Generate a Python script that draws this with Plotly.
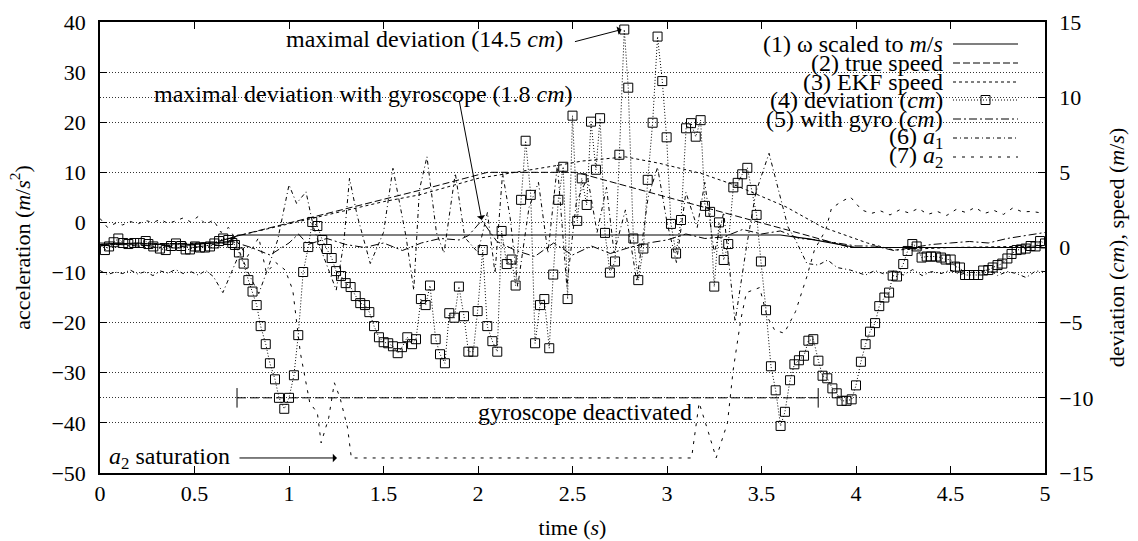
import plotly.graph_objects as go

# ---------------- data ----------------
# (4) deviation without gyroscope, cm (right axis)
dev_t = [0.026, 0.048, 0.072, 0.097, 0.123, 0.150, 0.181, 0.212, 0.242, 0.256, 0.282, 0.317, 0.348,
         0.376, 0.402, 0.429, 0.453, 0.476, 0.503, 0.529, 0.556, 0.582, 0.605, 0.630, 0.652, 0.679,
         0.700, 0.714, 0.735, 0.760, 0.785, 0.807, 0.829, 0.850, 0.877, 0.899, 0.926, 0.947, 0.975,
         1.000, 1.026, 1.049, 1.075, 1.102, 1.123, 1.150, 1.176, 1.200, 1.226, 1.249, 1.275, 1.300,
         1.326, 1.353, 1.377, 1.402, 1.425, 1.450, 1.476, 1.501, 1.525, 1.550, 1.575, 1.598, 1.626,
         1.651, 1.672, 1.698, 1.723, 1.746, 1.776, 1.799, 1.825, 1.848, 1.875, 1.899, 1.926, 1.949,
         1.975, 1.998, 2.025, 2.049, 2.076, 2.102, 2.125, 2.152, 2.178, 2.199, 2.228, 2.252, 2.279,
         2.302, 2.328, 2.351, 2.377, 2.398, 2.425, 2.451, 2.474, 2.500, 2.525, 2.549, 2.575, 2.598,
         2.624, 2.646, 2.672, 2.698, 2.725, 2.748, 2.774, 2.795, 2.822, 2.848, 2.875, 2.898, 2.924,
         2.950, 2.975, 2.998, 3.021, 3.048, 3.074, 3.101, 3.127, 3.152, 3.178, 3.201, 3.228, 3.250,
         3.275, 3.300, 3.324, 3.351, 3.374, 3.398, 3.425, 3.448, 3.474, 3.497, 3.524, 3.550, 3.575,
         3.601, 3.624, 3.651, 3.674, 3.698, 3.725, 3.748, 3.774, 3.801, 3.823, 3.848, 3.875, 3.898,
         3.924, 3.950, 3.977, 4.000, 4.026, 4.051, 4.074, 4.101, 4.123, 4.150, 4.175, 4.194, 4.217,
         4.250, 4.273, 4.298, 4.321, 4.347, 4.374, 4.397, 4.422, 4.450, 4.474, 4.501, 4.524, 4.550,
         4.577, 4.598, 4.624, 4.647, 4.673, 4.700, 4.723, 4.749, 4.774, 4.801, 4.823, 4.850, 4.873,
         4.898, 4.924, 4.950, 4.974, 5.000]
dev_cm = [-0.17, 0.07, 0.35, 0.60, 0.30, 0.23, 0.30, 0.30, 0.43, 0.23, 0.07, -0.07, -0.17,
          0.10, 0.27, 0.10, -0.13, -0.13, 0.07, 0.00, 0.00, 0.07, 0.27, 0.43, 0.60, 0.50,
          0.30, 0.17, -0.33, -1.07, -2.17, -2.93, -3.83, -5.23, -6.43, -7.70, -8.77, -10.00, -10.73,
          -10.00, -8.50, -5.83, -1.63, 0.03, 1.70, 1.43, 0.50, -0.10, -0.70, -1.57, -1.90, -2.37,
          -2.63, -3.23, -3.70, -3.83, -4.30, -5.23, -5.97, -6.30, -6.37, -6.57, -7.03, -6.63, -5.97,
          -6.43, -6.10, -3.43, -3.83, -2.53, -6.10, -7.10, -7.70, -4.37, -4.67, -2.60, -4.57, -6.93,
          -6.93, -4.23, -0.17, -5.23, -6.23, -6.93, 1.10, -1.10, -0.80, -2.53, 3.17, 7.10, 3.50,
          -6.37, -3.83, -3.43, -6.70, -1.80, 3.17, 5.37, -3.43, 8.77, 1.77, 4.60, 2.83, 8.37,
          5.17, 8.60, 0.97, -1.67, -0.93, 6.17, 14.50, 10.63, 0.60, -2.17, -0.07, 4.50, 8.30,
          14.03, 11.07, 7.33, 1.57, -0.40, 1.83, 7.93, 8.27, 7.37, 8.47, 2.77, 2.37, -2.60,
          1.67, -0.83, 0.23, 4.00, 4.30, 4.87, 5.30, 3.83, 2.17, -0.93, -4.17, -7.90, -9.50,
          -11.87, -10.93, -8.83, -7.77, -7.50, -7.20, -6.20, -6.10, -7.53, -8.53, -8.70, -9.37, -9.70,
          -10.20, -10.20, -10.10, -9.17, -7.60, -6.43, -5.60, -5.03, -3.90, -3.33, -3.00, -1.87, -1.93,
          -1.10, -0.23, 0.23, 0.07, -0.67, -0.60, -0.60, -0.60, -0.67, -0.80, -0.80, -1.27, -1.33,
          -1.83, -1.83, -1.83, -1.83, -1.53, -1.50, -1.33, -1.17, -1.07, -0.73, -0.43, -0.17, -0.13,
          -0.07, 0.10, 0.07, 0.43, 0.27]

# (1) omega scaled to m/s (right axis)
omega_t = [0.0, 0.1, 0.2, 0.3, 0.4, 0.5, 0.6, 0.68, 0.73, 3.60, 3.75, 3.88, 4.00, 5.00]
omega_v = [0.30, 0.25, 0.30, 0.20, 0.25, 0.20, 0.30, 0.40, 0.83, 0.83, 0.57, 0.27, 0.00, 0.00]

# (2) true speed, m/s (right axis)
true_t = [0.0, 0.60, 0.72, 1.10, 1.50, 1.69, 2.05, 2.52, 3.00, 3.37, 3.70, 3.97, 5.00]
true_v = [0.20, 0.30, 0.75, 1.95, 3.20, 3.80, 5.00, 5.00, 3.35, 2.10, 0.95, 0.00, 0.00]

# (3) EKF speed, m/s (right axis)
ekf_t = [0.0, 0.60, 0.72, 1.10, 1.50, 1.69, 2.00, 2.44, 2.55, 2.78, 2.96, 3.18, 3.37, 3.63, 3.82,
         4.06, 4.20, 4.50, 5.00]
ekf_v = [0.20, 0.30, 0.75, 1.85, 3.05, 3.50, 4.60, 5.50, 5.75, 6.03, 5.60, 4.93, 4.10, 2.70, 1.37,
         0.30, -0.17, 0.00, 0.10]

# (5) deviation with gyroscope, cm (right axis)
gyro_t = [0.0, 0.1, 0.2, 0.3, 0.4, 0.5, 0.6, 0.7, 0.8, 0.9, 1.0, 1.05, 1.1, 1.2, 1.3, 1.4, 1.5, 1.6,
          1.7, 1.8, 1.9, 1.95, 2.02, 2.1, 2.2, 2.3, 2.4, 2.5, 2.6, 2.7, 2.8, 2.9, 3.0, 3.1, 3.2, 3.3,
          3.4, 3.5, 3.6, 3.7, 3.8, 3.9, 4.0, 4.1, 4.2, 4.3, 4.4, 4.5, 4.6, 4.7, 4.8, 4.9, 5.0]
gyro_cm = [0.10, 0.20, 0.10, 0.00, 0.10, 0.00, 0.20, 0.40, 0.00, -0.50, 0.30, 0.90, 0.20, 0.60, 0.20,
           0.00, 0.30, -0.20, 0.30, 0.60, 0.50, 0.80, 1.80, 0.40, -0.20, -0.60, 0.30, -0.50, 0.10,
           -0.40, 0.00, 0.30, 0.50, 0.90, 0.60, 0.70, 1.20, 0.90, 1.10, 0.60, 0.50, 0.30, 0.10, 0.10,
           -0.20, 0.00, 0.20, 0.30, 0.40, 0.30, 0.60, 0.80, 1.00]

# (6) a1, m/s^2 (left axis)
a1_t = [0.00, 0.04, 0.08, 0.12, 0.16, 0.20, 0.24, 0.28, 0.32, 0.36, 0.40, 0.44, 0.48, 0.52, 0.56,
        0.60, 0.65, 0.70, 0.74, 0.79, 0.84, 0.89, 0.94, 1.00, 1.04, 1.09, 1.13, 1.18, 1.25, 1.29,
        1.32, 1.36, 1.43, 1.50, 1.55, 1.62, 1.66, 1.69, 1.73, 1.78, 1.82, 1.88, 1.93, 2.00, 2.05,
        2.09, 2.13, 2.17, 2.21, 2.27, 2.32, 2.37, 2.42, 2.47, 2.52, 2.58, 2.63, 2.68, 2.72, 2.78,
        2.84, 2.90, 2.95, 3.00, 3.05, 3.10, 3.16, 3.20, 3.25, 3.30, 3.36, 3.42, 3.47, 3.54, 3.60,
        3.64, 3.68, 3.74, 3.80, 3.85, 3.90, 3.97, 4.05, 4.10, 4.15, 4.20, 4.25, 4.30, 4.35, 4.40,
        4.45, 4.50, 4.55, 4.60, 4.65, 4.70, 4.75, 4.80, 4.85, 4.90, 4.95, 5.00]
a1_v = [-9.6, -10.4, -9.9, -10.2, -9.5, -10.3, -9.8, -10.6, -9.7, -10.1, -9.4, -10.2, -9.8, -10.5, -9.6,
        -10.8, -14.0, -9.5, -6.0, -10.5, -14.2, -9.0, -3.5, 7.5, 3.8, 6.1, -1.0, -6.5, -13.5, -4.0,
        8.8, 1.5, -8.2, -2.0, 10.8, -3.0, -13.5, 6.5, 13.1, -2.0, -6.1, 9.8, -3.0, -6.0, 2.0,
        -10.1, 9.8, 1.0, -12.8, 3.0, 8.0, -6.1, 11.5, -12.8, 4.0, 9.0, -2.0, 7.0, -6.1, 2.5,
        -11.8, 5.0, 11.0, 0.0, -8.0, 6.0, -1.0, 8.0, -6.1, 2.0, -19.8, -5.0, 6.0, 13.8, 5.1,
        -0.9, -3.5, -8.2, -8.5, -7.5, -9.0, -9.5, -10.5, -9.6, -10.3, -9.7, -10.5, -9.4, -10.6, -9.8,
        -10.2, -9.5, -10.4, -9.9, -10.1, -9.3, -10.6, -9.8, -10.2, -11.0, -9.7, -9.8]

# (7) a2, m/s^2 (left axis)
a2_t = [0.00, 0.04, 0.08, 0.12, 0.16, 0.20, 0.24, 0.28, 0.32, 0.36, 0.40, 0.44, 0.48, 0.52, 0.56,
        0.60, 0.64, 0.68, 0.72, 0.78, 0.84, 0.88, 0.93, 0.98, 1.02, 1.06, 1.11, 1.15, 1.17, 1.21,
        1.24, 1.27, 1.31, 1.33, 3.13, 3.17, 3.22, 3.26, 3.32, 3.35, 3.39, 3.42, 3.49, 3.53, 3.57,
        3.62, 3.68, 3.74, 3.78, 3.84, 3.87, 3.92, 3.97, 4.03, 4.08, 4.13, 4.18, 4.23, 4.28, 4.33,
        4.38, 4.43, 4.48, 4.53, 4.58, 4.63, 4.68, 4.73, 4.78, 4.83, 4.88, 4.93, 4.98]
a2_v = [0.8, -1.0, -0.2, -0.5, 0.2, -0.3, 0.4, 0.0, 0.6, -0.2, 0.3, 0.9, 0.1, 1.2, -0.4,
        0.5, -2.0, -1.0, -3.5, -6.8, -3.0, -10.0, -8.0, -9.5, -13.5, -26.0, -36.0, -38.0, -44.0, -39.0,
        -32.0, -35.0, -41.0, -47.0, -47.0, -36.0, -42.0, -47.0, -40.0, -29.5, -19.5, -14.0, -13.0, -18.8, -21.5,
        -22.1, -17.8, -10.8, -5.5, -1.5, 2.8, 4.1, 5.1, 2.5, 1.8, 2.3, 1.5, 2.5, 1.9, 2.8,
        1.6, 2.2, 1.4, 2.6, 2.0, 3.0, 1.8, 2.4, 1.6, 2.9, 2.1, 2.2, 1.9]

# gyroscope deactivated interval (right axis, cm level of the marker line)
deact_t = [0.725, 3.80]
deact_v = [-10.0, -10.0]

legend_labels = ["(1) ω scaled to <i>m</i>/<i>s</i>", "(2) true speed", "(3) EKF speed",
                 "(4) deviation (<i>cm</i>)", "(5) with gyro (<i>cm</i>)",
                 "(6) <i>a</i><sub>1</sub>", "(7) <i>a</i><sub>2</sub>"]

# ---------------- styles ----------------
FONT = "'Liberation Serif', 'Times New Roman', Times, 'DejaVu Serif', serif"
FS = 22      # tick labels / axis titles
FT = 24      # key and annotation texts
K = "#000000"
styles = [
    dict(color=K, width=1.2, dash="solid"),
    dict(color=K, width=1.0, dash="7px,3px"),
    dict(color=K, width=1.0, dash="3px,3px"),
    dict(color=K, width=1.0, dash="1px,2px"),
    dict(color=K, width=1.0, dash="8px,3px,2px,3px"),
    dict(color=K, width=1.0, dash="4px,3px,1px,3px"),
    dict(color=K, width=1.0, dash="3px,6px"),
]

fig = go.Figure()
fig.add_trace(go.Scatter(x=omega_t, y=omega_v, yaxis="y2", mode="lines", line=styles[0], showlegend=False))
fig.add_trace(go.Scatter(x=true_t, y=true_v, yaxis="y2", mode="lines", line=styles[1], showlegend=False))
fig.add_trace(go.Scatter(x=ekf_t, y=ekf_v, yaxis="y2", mode="lines", line=styles[2], showlegend=False))
fig.add_trace(go.Scatter(x=gyro_t, y=gyro_cm, yaxis="y2", mode="lines", line=styles[4], showlegend=False))
fig.add_trace(go.Scatter(x=a1_t, y=a1_v, yaxis="y", mode="lines", line=styles[5], showlegend=False))
fig.add_trace(go.Scatter(x=a2_t, y=a2_v, yaxis="y", mode="lines", line=styles[6], showlegend=False))
fig.add_trace(go.Scatter(x=dev_t, y=dev_cm, yaxis="y2", mode="lines+markers", line=styles[3],
                         marker=dict(symbol="square-open", size=9, color=K, line=dict(width=1, color=K)),
                         showlegend=False))
fig.add_trace(go.Scatter(x=deact_t, y=deact_v, yaxis="y2", mode="lines",
                         line=dict(color=K, width=1, dash="9px,4px"),
                         error_y=dict(type="constant", value=0.65, width=0, thickness=1, color=K),
                         showlegend=False))

# ---------------- layout ----------------
L, R, T, B = 100, 93, 22, 68
W, H = 1138, 541
PW, PH = W - L - R, H - T - B

def px(x):
    return (x - L) / PW

def py(y):
    return (H - B - y) / PH

grid = dict(showgrid=True, gridcolor="#333333", gridwidth=1, griddash="1px,2px")
common = dict(ticks="inside", ticklen=7, tickwidth=1, tickcolor=K, showline=True, linecolor=K,
              linewidth=1.5, zeroline=False, tickfont=dict(family=FONT, size=FS, color=K))

fig.update_layout(
    width=W, height=H, margin=dict(l=L, r=R, t=T, b=B, autoexpand=False),
    paper_bgcolor="white", plot_bgcolor="white", showlegend=False,
    font=dict(family=FONT, size=FS, color=K),
    xaxis=dict(range=[0, 5], dtick=0.5, mirror="ticks", showgrid=False, ticklabelstandoff=0,
               title=dict(text="time (<i>s</i>)", font=dict(family=FONT, size=FS), standoff=14),
               **common),
    yaxis=dict(range=[-50, 40], dtick=10, ticklabelstandoff=8,
               title=dict(text="acceleration (<i>m</i>/<i>s</i><sup>2</sup>)",
                          font=dict(family=FONT, size=FS), standoff=15), **grid, **common),
    yaxis2=dict(range=[-15, 15], dtick=5, overlaying="y", side="right", ticklabelstandoff=8,
                title=dict(text="deviation (<i>cm</i>), speed (<i>m</i>/<i>s</i>)",
                           font=dict(family=FONT, size=FS), standoff=16), **grid, **common),
)

# annotations: arrows and texts
ann = []
ann.append(dict(x=2.76, y=38.5, ax=2.505, ay=36.0, xref="x", yref="y", axref="x", ayref="y",
                text="", showarrow=True, arrowhead=1, arrowsize=1.4, arrowwidth=1, arrowcolor=K))
ann.append(dict(x=2.02, y=0.5, ax=1.90, ay=24.4, xref="x", yref="y", axref="x", ayref="y",
                text="", showarrow=True, arrowhead=1, arrowsize=1.4, arrowwidth=1, arrowcolor=K))
ann.append(dict(x=1.254, y=-47.0, ax=0.73, ay=-47.0, xref="x", yref="y", axref="x", ayref="y",
                text="", showarrow=True, arrowhead=1, arrowsize=1.4, arrowwidth=1, arrowcolor=K))
ann.append(dict(x=2.46, y=36.6, xref="x", yref="y", xanchor="right", yanchor="middle", showarrow=False,
                text="maximal deviation (14.5 <i>cm</i>)", font=dict(family=FONT, size=FT, color=K)))
ann.append(dict(x=2.513, y=25.6, xref="x", yref="y", xanchor="right", yanchor="middle", showarrow=False,
                text="maximal deviation with gyroscope (1.8 <i>cm</i>)", font=dict(family=FONT, size=FT, color=K)))
ann.append(dict(x=0.037, y=-47.0, xref="x", yref="y", xanchor="left", yanchor="middle", showarrow=False,
                text="<i>a</i><sub>2</sub> saturation", font=dict(family=FONT, size=FT, color=K)))
ann.append(dict(x=2.566, y=-37.8, xref="x", yref="y", xanchor="center", yanchor="middle", showarrow=False,
                text="gyroscope deactivated", font=dict(family=FONT, size=FT, color=K)))

# manual gnuplot-style key (text right aligned, sample on the right)
shapes = []
shapes.append(dict(type="rect", xref="paper", yref="paper", x0=px(697), x1=px(1043), y0=py(110), y1=py(23),
                   fillcolor="white", line=dict(width=0), layer="between"))
shapes.append(dict(type="rect", xref="paper", yref="paper", x0=px(765), x1=px(1043), y0=py(182), y1=py(110),
                   fillcolor="white", line=dict(width=0), layer="between"))
rows = [44, 63, 82, 100, 119, 138, 157]
for i, (lab, st) in enumerate(zip(legend_labels, styles)):
    yy = py(rows[i])
    ann.append(dict(x=px(945), y=yy, xref="paper", yref="paper", xanchor="right", yanchor="middle",
                    showarrow=False, text=lab, font=dict(family=FONT, size=FT, color=K)))
    shapes.append(dict(type="line", xref="paper", yref="paper", x0=px(953), x1=px(1018), y0=yy, y1=yy,
                       line=dict(color=K, width=st["width"], dash=st["dash"]), layer="above"))
    if i == 3:
        shapes.append(dict(type="rect", xref="paper", yref="paper", x0=px(981), x1=px(990),
                           y0=py(rows[i] + 4.5), y1=py(rows[i] - 4.5), fillcolor="rgba(0,0,0,0)",
                           line=dict(color=K, width=1), layer="above"))

fig.update_layout(annotations=ann, shapes=shapes)
fig.write_html("out.html", config={"displayModeBar": False},
               post_script="document.body.style.margin='0';document.body.style.padding='0';")
